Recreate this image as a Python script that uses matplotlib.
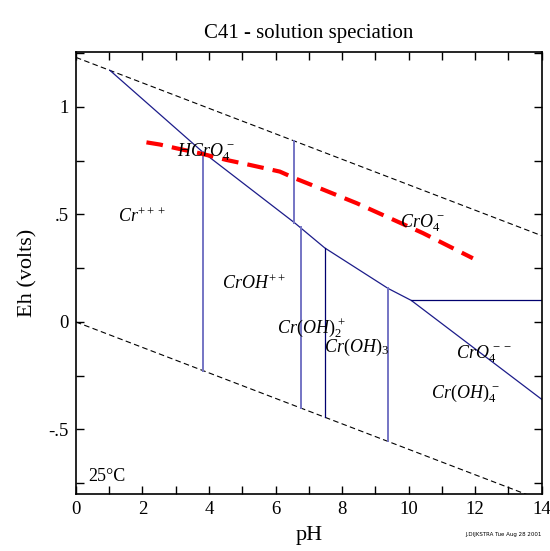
import numpy as np
import matplotlib
matplotlib.use("Agg")
import matplotlib.pyplot as plt
from matplotlib.ticker import MultipleLocator

plt.rcParams["font.family"] = ["Liberation Serif", "DejaVu Serif"]
plt.rcParams["mathtext.fontset"] = "custom"
plt.rcParams["mathtext.rm"] = "Liberation Serif"
plt.rcParams["mathtext.it"] = "Liberation Serif:italic"

# water stability limits
water_ph = [0, 14]
upper_eh = [1.23, 0.401]
lower_eh = [0.0, -0.829]

# main redox boundary
diag_ph = [1.02, 3.81, 6.58, 7.48, 9.38, 10.08, 14]
diag_eh = [1.17, 0.79, 0.46, 0.344, 0.156, 0.10, -0.36]

# vertical boundaries (pH, eh_top, eh_bottom)
light_ph = [3.81, 6.56, 6.76, 9.38]
light_top = [0.79, 0.842, 0.44, 0.156]
light_bot = [-0.226, 0.46, -0.40, -0.555]
dark_ph = 7.48
dark_top, dark_bot = 0.344, -0.443
horiz_ph = [10.08, 14]
horiz_eh = 0.10

# red dashed curve
red_ph = [2.12, 2.52, 3.03, 3.73, 4.53, 5.23, 6.13, 6.58, 7.42, 8.44, 9.43, 10.43, 11.93]
red_eh = [0.835, 0.825, 0.807, 0.784, 0.753, 0.730, 0.699, 0.668, 0.616, 0.552, 0.483, 0.413, 0.296]

labels = [r"$\mathit{Cr}^{+++}$", r"$\mathit{HCrO}_4^{\,-}$", r"$\mathit{CrOH}^{++}$",
          r"$\mathit{Cr(OH)}_2^{\,+}$", r"$\mathit{Cr(OH)}_3$", r"$\mathit{CrO}_4^{\,-}$",
          r"$\mathit{CrO}_4^{\,--}$", r"$\mathit{Cr(OH)}_4^{\,-}$"]
label_ph = [1.26, 3.03, 4.39, 6.04, 7.45, 9.73, 11.42, 10.67]
label_eh = [0.49, 0.79, 0.176, -0.03, -0.12, 0.46, -0.15, -0.33]

fig = plt.figure(figsize=(5.5, 5.51), dpi=100)
ax = fig.add_axes([0.138, 0.1034, 0.847, 0.8022])

ax.plot(water_ph, upper_eh, color="black", lw=0.8, ls=(0, (5, 3)))
ax.plot(water_ph, lower_eh, color="black", lw=0.8, ls=(0, (5, 3)))
ax.plot(diag_ph, diag_eh, color="#1c1c8a", lw=0.9)
for p, t, b in zip(light_ph, light_top, light_bot):
    ax.plot([p, p], [t, b], color="#7474c4", lw=1.4)
ax.plot([dark_ph, dark_ph], [dark_top, dark_bot], color="#00006e", lw=0.9)
ax.plot(horiz_ph, [horiz_eh, horiz_eh], color="#00006e", lw=0.9)
ax.plot(red_ph, red_eh, color="red", lw=3, ls=(0, (4, 2.2)))

for s, x, y in zip(labels, label_ph, label_eh):
    ax.text(x, y, s, fontsize=13, ha="left", va="center")
ax.text(0.36, -0.72, "25°C", fontsize=13, ha="left", va="center")

ax.set_xlim(0, 14)
ax.set_ylim(-0.8, 1.255)
ax.xaxis.set_major_locator(MultipleLocator(2))
ax.xaxis.set_minor_locator(MultipleLocator(1))
ax.set_yticks([-0.5, 0, 0.5, 1])
ax.set_yticklabels(["-.5", "0", ".5", "1"])
ax.yaxis.set_minor_locator(MultipleLocator(0.25))
ax.tick_params(which="both", direction="in", top=True, right=True, labelsize=13.5, width=1)
ax.tick_params(which="major", length=6, pad=5)
ax.tick_params(which="minor", length=6)
for sp in ax.spines.values():
    sp.set_linewidth(1.2)

ax.set_title("C41 - solution speciation", fontsize=15, pad=10)
ax.set_xlabel("pH", fontsize=16, labelpad=6)
ax.set_ylabel("Eh (volts)", fontsize=16, labelpad=8)
fig.text(0.985, 0.027, "J.DIJKSTRA Tue Aug 28 2001", fontsize=4, ha="right",
         family="DejaVu Sans")

fig.savefig("out.png", dpi=100)
